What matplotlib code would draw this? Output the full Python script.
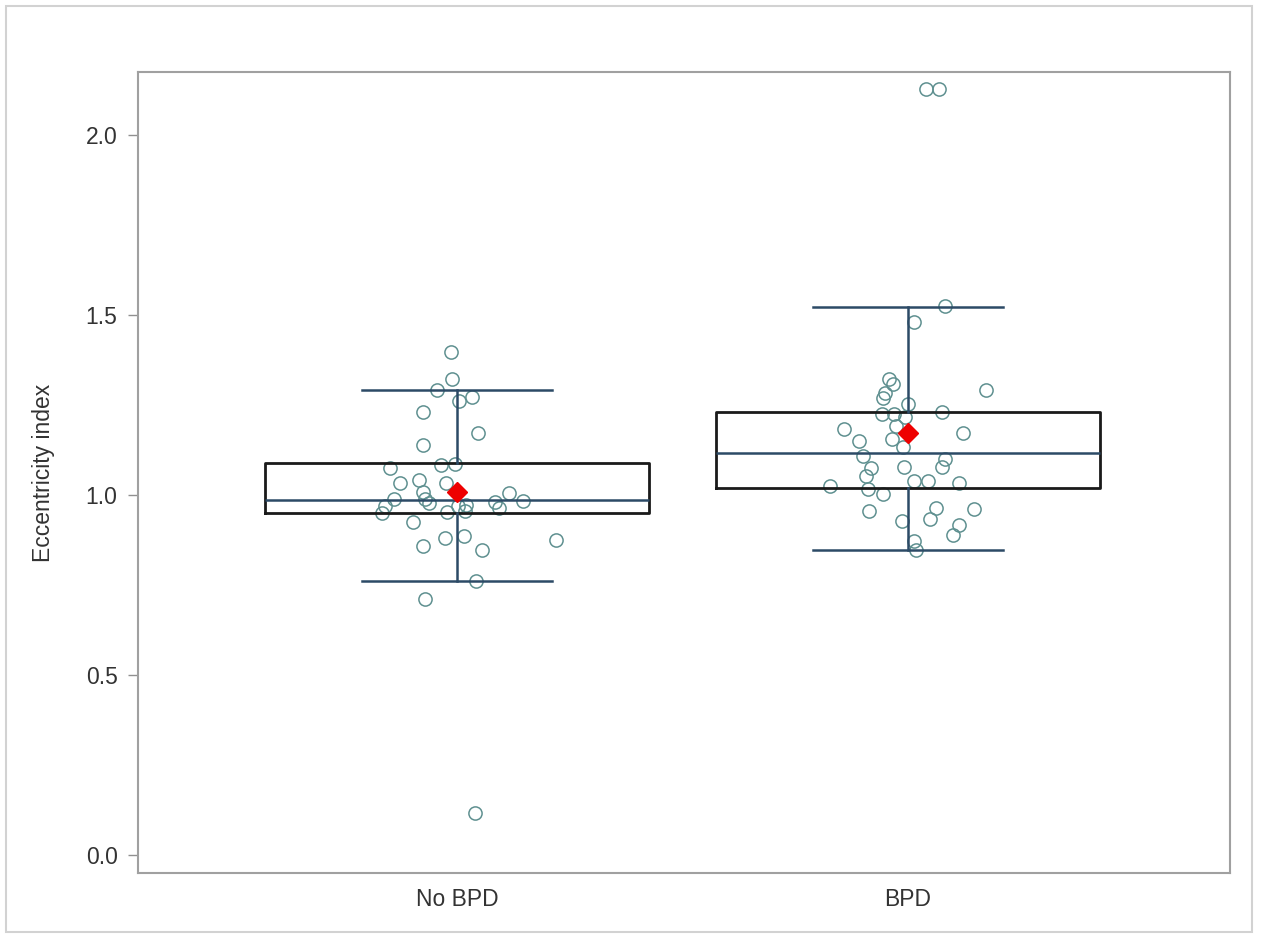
import matplotlib.pyplot as plt
from matplotlib.patches import Rectangle

groups = ["No BPD", "BPD"]

# box statistics
q1 = [0.951, 1.020]
med = [0.987, 1.117]
q3 = [1.090, 1.231]
whislo = [0.761, 0.848]
whishi = [1.291, 1.523]
means = [1.007, 1.171]

# individual observations (jitter offset from category centre, value)
nobpd_jit = [-0.014, -0.010, -0.044, 0.004, 0.034, -0.075, 0.047, -0.075, -0.035, -0.004,
             -0.149, -0.084, -0.126, -0.024, -0.075, 0.116, -0.139, -0.071, -0.061, 0.084,
             0.146, -0.160, -0.166, 0.020, 0.018, 0.094, -0.023, 0.002, -0.097, -0.027,
             0.016, -0.075, 0.055, 0.220, 0.042, -0.070, 0.040]
nobpd_val = [1.398, 1.321, 1.291, 1.260, 1.272, 1.231, 1.171, 1.139, 1.083, 1.086,
             1.074, 1.043, 1.032, 1.033, 1.009, 1.006, 0.989, 0.989, 0.978, 0.980,
             0.982, 0.970, 0.950, 0.973, 0.956, 0.965, 0.952, 0.969, 0.924, 0.880,
             0.885, 0.858, 0.848, 0.875, 0.762, 0.712, 0.116]

bpd_jit = [0.082, 0.014, -0.043, -0.034, -0.050, -0.056, 0.173, 0.000, -0.057, -0.031,
           0.076, -0.007, -0.026, -0.142, 0.122, -0.108, -0.035, -0.012, -0.099, 0.083,
           -0.082, 0.076, -0.008, -0.094, -0.173, 0.013, 0.045, 0.114, -0.089, -0.056,
           -0.087, 0.061, 0.147, 0.048, -0.013, 0.114, 0.099, 0.014, 0.017, 0.039, 0.068]
bpd_val = [1.524, 1.480, 1.321, 1.307, 1.284, 1.269, 1.291, 1.252, 1.224, 1.224,
           1.231, 1.217, 1.192, 1.183, 1.172, 1.149, 1.155, 1.132, 1.109, 1.100,
           1.075, 1.078, 1.079, 1.052, 1.026, 1.040, 1.040, 1.033, 1.018, 1.003,
           0.956, 0.965, 0.961, 0.934, 0.929, 0.917, 0.890, 0.872, 0.848, 2.127, 2.127]

yticks = [0.0, 0.5, 1.0, 1.5, 2.0]

plt.rcParams['font.family'] = ['Liberation Sans', 'DejaVu Sans']

fig = plt.figure(figsize=(12.61, 9.40), dpi=100)
ax = fig.add_axes([0.1098, 0.0713, 0.8660, 0.8521])

# light outer frame around the whole graph
fig.patches.append(Rectangle((6 / 1261, 8 / 940), 1246 / 1261, 926 / 940,
                             transform=fig.transFigure, fill=False,
                             edgecolor="#d2d2d2", linewidth=1.5))

positions = [1, 2]
pts_color = "#5f9090"
for pos, jit, val in [(1, nobpd_jit, nobpd_val), (2, bpd_jit, bpd_val)]:
    ax.plot([pos + j for j in jit], val, linestyle="none", marker="o",
            markersize=9.5, markerfacecolor="none", markeredgecolor=pts_color,
            markeredgewidth=1.1, zorder=2)

stats = []
for i, g in enumerate(groups):
    stats.append(dict(label=g, q1=q1[i], med=med[i], q3=q3[i],
                      whislo=whislo[i], whishi=whishi[i], mean=means[i], fliers=[]))

line_c = "#2c4a66"
ax.bxp(stats, positions=positions, widths=0.85, capwidths=0.42,
       showmeans=True, showfliers=False, patch_artist=False,
       boxprops=dict(color="#1a1a1a", linewidth=2),
       medianprops=dict(color=line_c, linewidth=1.8),
       whiskerprops=dict(color=line_c, linewidth=1.8),
       capprops=dict(color=line_c, linewidth=1.8),
       meanprops=dict(marker="D", markerfacecolor="#ee0000", markeredgecolor="#ee0000",
                      markersize=10.5),
       zorder=3)

ax.set_xlim(0.2938, 2.715)
ax.set_ylim(-0.05, 2.175)
ax.set_yticks(yticks)
ax.set_yticklabels([f"{t:.1f}" for t in yticks])
ax.set_xticks(positions)
ax.set_xticklabels(groups)

for s in ax.spines.values():
    s.set_color("#a0a0a0")
    s.set_linewidth(1.5)

ax.tick_params(axis="y", length=7, width=1, color="#909090", labelsize=16.5,
               labelcolor="#333333", pad=8)
ax.tick_params(axis="x", length=0, labelsize=16.5, labelcolor="#333333", pad=11)
ax.set_ylabel("Eccentricity index", fontsize=16.5, color="#333333", labelpad=22)

fig.savefig("out.png", dpi=100)
